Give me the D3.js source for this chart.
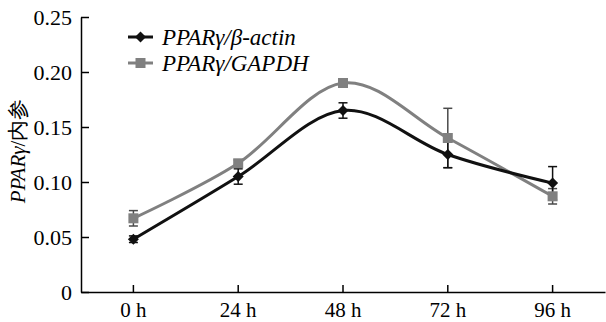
<!DOCTYPE html>
<html><head><meta charset="utf-8">
<script src="https://cdn.jsdelivr.net/npm/d3@7"></script>
<style>html,body{margin:0;padding:0;background:#fff;}svg{display:block;}
svg text{font-family:"Liberation Serif","Times New Roman","DejaVu Serif",serif;}</style>
</head><body>
<div id="chart"></div>
<script>
const categories = ["0 h", "24 h", "48 h", "72 h", "96 h"];
const actinValues = [0.048, 0.105, 0.165, 0.125, 0.099];
const actinErrors = [0.003, 0.007, 0.007, 0.012, 0.015];
const gapdhValues = [0.067, 0.117, 0.190, 0.140, 0.087];
const gapdhErrors = [0.007, 0.003, 0.002, 0.027, 0.007];
const yTicks = [0, 0.05, 0.10, 0.15, 0.20, 0.25];
const yTickLabels = ["0", "0.05", "0.10", "0.15", "0.20", "0.25"];
const seriesNames = ["PPARγ/β-actin", "PPARγ/GAPDH"];

const W = 606, H = 322;
const m = {left: 81, right: 1, top: 17, bottom: 30};
const svg = d3.select("#chart").append("svg").attr("width", W).attr("height", H);
const font = '"Liberation Serif","Times New Roman","DejaVu Serif",serif';

const x = d3.scaleBand().domain(categories).range([m.left, W - m.right]).padding(0);
const cx = c => x(c) + x.bandwidth() / 2;
const y = d3.scaleLinear().domain([0, 0.25]).range([H - m.bottom, m.top]);

// axes
const xAxis = svg.append("g").attr("transform", `translate(0,${H - m.bottom})`)
  .call(d3.axisBottom(x).tickSize(-7).tickSizeOuter(0).tickPadding(10));
xAxis.attr("font-family", null);
xAxis.select(".domain").attr("stroke", "#000").attr("stroke-width", 1.5);
xAxis.selectAll(".tick line").attr("stroke", "#000").attr("stroke-width", 1.5);
xAxis.selectAll("text").style("font-family", font).style("font-size", "21px").attr("fill", "#000");

const yAxis = svg.append("g").attr("transform", `translate(${m.left},0)`)
  .call(d3.axisLeft(y).tickValues(yTicks).tickFormat((d, i) => yTickLabels[i]).tickSize(-8).tickSizeOuter(0).tickPadding(9));
yAxis.attr("font-family", null);
yAxis.select(".domain").attr("stroke", "#000").attr("stroke-width", 1.5);
yAxis.selectAll(".tick line").attr("stroke", "#000").attr("stroke-width", 1.5);
yAxis.selectAll("text").style("font-family", font).style("font-size", "22px").attr("fill", "#000");

// y label
const yl = svg.append("text").attr("transform", "translate(25,151) rotate(-90)")
  .attr("text-anchor", "middle").style("font-family", font).style("font-size", "21px").attr("fill", "#000");
yl.append("tspan").attr("font-style", "italic").text("PPARγ");
yl.append("tspan").text("/内参");

const line = d3.line().x((d, i) => cx(categories[i])).y(d => y(d)).curve(d3.curveCardinal.tension(0));

const series = [
  {vals: gapdhValues, errs: gapdhErrors, color: "#808080", ebar: "#4a4a4a", marker: "square"},
  {vals: actinValues, errs: actinErrors, color: "#111", ebar: "#111", marker: "diamond"}
];

// error bars
series.forEach(s => {
  const g = svg.append("g").attr("stroke", s.ebar).attr("stroke-width", 1.5);
  s.vals.forEach((v, i) => {
    const px = cx(categories[i]);
    g.append("line").attr("x1", px).attr("x2", px).attr("y1", y(v + s.errs[i])).attr("y2", y(v - s.errs[i]));
    [v + s.errs[i], v - s.errs[i]].forEach(e => {
      g.append("line").attr("x1", px - 4.5).attr("x2", px + 4.5).attr("y1", y(e)).attr("y2", y(e));
    });
  });
});

// lines and markers
function drawMarker(g, type, px, py, color) {
  if (type === "square") {
    g.append("rect").attr("x", px - 5).attr("y", py - 5).attr("width", 10).attr("height", 10).attr("fill", color);
  } else {
    g.append("path").attr("d", `M${px},${py - 5.5}L${px + 5.5},${py}L${px},${py + 5.5}L${px - 5.5},${py}Z`).attr("fill", color);
  }
}
series.forEach(s => {
  svg.append("path").datum(s.vals).attr("d", line).attr("fill", "none").attr("stroke", s.color).attr("stroke-width", 3);
  const g = svg.append("g");
  s.vals.forEach((v, i) => drawMarker(g, s.marker, cx(categories[i]), y(v), s.color));
});

// legend
const legend = [
  {name: seriesNames[0], color: "#111", marker: "diamond", yy: 37},
  {name: seriesNames[1], color: "#808080", marker: "square", yy: 63}
];
legend.forEach(l => {
  const g = svg.append("g");
  g.append("line").attr("x1", 128).attr("x2", 153).attr("y1", l.yy).attr("y2", l.yy).attr("stroke", l.color).attr("stroke-width", 3);
  drawMarker(g, l.marker, 140.5, l.yy, l.color);
  g.append("text").attr("x", 162).attr("y", l.yy).attr("dy", "0.35em").style("font-family", font)
    .attr("font-style", "italic").style("font-size", "23px").attr("fill", "#000").text(l.name);
});
</script>
</body></html>
